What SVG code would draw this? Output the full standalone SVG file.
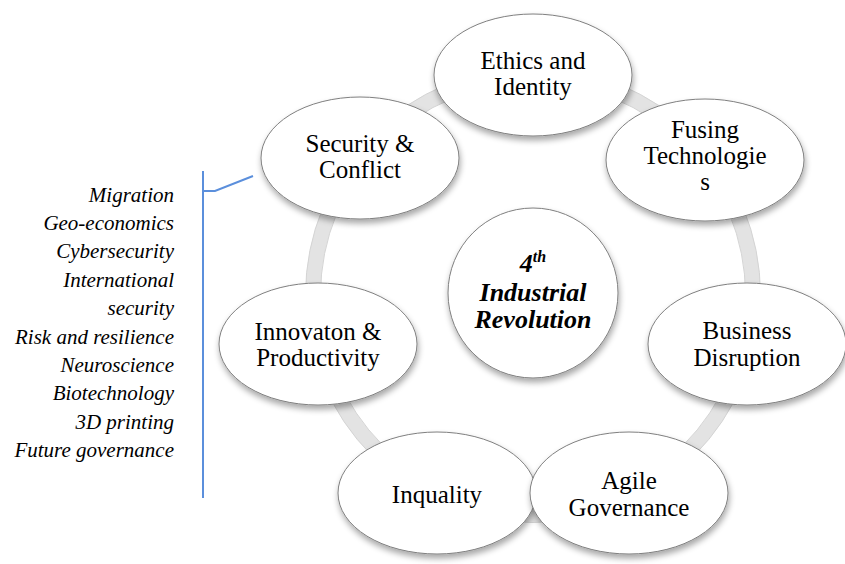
<svg xmlns="http://www.w3.org/2000/svg" width="845" height="564" viewBox="0 0 845 564">
  <defs>
    <filter id="shadow" x="-20%" y="-20%" width="140%" height="150%">
      <feGaussianBlur in="SourceAlpha" stdDeviation="3"/>
      <feOffset dx="1" dy="4" result="b"/>
      <feComponentTransfer><feFuncA type="linear" slope="0.35"/></feComponentTransfer>
      <feMerge><feMergeNode/><feMergeNode in="SourceGraphic"/></feMerge>
    </filter>
    <style>
      .node { fill: #ffffff; stroke: #7f7f7f; stroke-width: 1; filter: url(#shadow); }
      .lbl { font-family: 'Liberation Serif', 'Times New Roman', serif; font-size: 25px; text-anchor: middle; fill: #000; }
      .hub { font-family: 'Liberation Serif', 'Times New Roman', serif; font-size: 26px; font-weight: bold; font-style: italic; text-anchor: middle; fill: #000; }
      .side { font-family: 'Liberation Serif', 'Times New Roman', serif; font-size: 21px; font-style: italic; text-anchor: end; fill: #000; }
      .ring { fill: none; stroke: #e3e3e3; stroke-width: 15; }
      .ringEdge { fill: none; stroke: #d4d4d4; stroke-width: 1; }
      .bracket { fill: none; stroke: #5b8fdc; stroke-width: 2; }
    </style>
  </defs>

  <rect width="845" height="564" fill="#ffffff"/>

  <!-- connectors: cycle ring and callout bracket -->
  <g id="connectors">
    <circle class="ring" cx="533" cy="295" r="220"/>
    <circle class="ringEdge" cx="533" cy="295" r="227.5"/>
    <circle class="ringEdge" cx="533" cy="295" r="212.5"/>
    <polyline class="bracket" points="203,171 203,498"/>
    <polyline class="bracket" points="203,191 215,191 253,176"/>
  </g>

  <!-- hub -->
  <g id="hub">
    <circle class="node" cx="533" cy="293" r="85"/>
    <text class="hub" x="533" y="272">4<tspan font-size="16" dy="-10">th</tspan></text>
    <text class="hub" x="533" y="301">Industrial</text>
    <text class="hub" x="533" y="328">Revolution</text>
  </g>

  <g id="ethics">
    <ellipse class="node" cx="533" cy="75" rx="99" ry="61"/>
    <text class="lbl" x="533" y="69">Ethics and</text>
    <text class="lbl" x="533" y="95">Identity</text>
  </g>

  <g id="fusing">
    <ellipse class="node" cx="705" cy="160" rx="99" ry="61"/>
    <text class="lbl" x="705" y="138">Fusing</text>
    <text class="lbl" x="705" y="164">Technologie</text>
    <text class="lbl" x="705" y="190">s</text>
  </g>

  <g id="business">
    <ellipse class="node" cx="747" cy="344" rx="99" ry="61"/>
    <text class="lbl" x="747" y="339">Business</text>
    <text class="lbl" x="747" y="366">Disruption</text>
  </g>

  <g id="inequality">
    <ellipse class="node" cx="437" cy="493" rx="99" ry="61"/>
    <text class="lbl" x="437" y="503">Inquality</text>
  </g>

  <g id="agile">
    <ellipse class="node" cx="629" cy="493" rx="99" ry="61"/>
    <text class="lbl" x="629" y="489">Agile</text>
    <text class="lbl" x="629" y="516">Governance</text>
  </g>

  <g id="innovation">
    <ellipse class="node" cx="318" cy="344" rx="99" ry="61"/>
    <text class="lbl" x="318" y="340">Innovaton &amp;</text>
    <text class="lbl" x="318" y="366">Productivity</text>
  </g>

  <g id="security">
    <ellipse class="node" cx="360" cy="158" rx="99" ry="61"/>
    <text class="lbl" x="360" y="152">Security &amp;</text>
    <text class="lbl" x="360" y="178">Conflict</text>
  </g>

  <!-- topic list -->
  <g id="topics">
    <text class="side" x="174" y="201.5">Migration</text>
    <text class="side" x="174" y="229.9">Geo-economics</text>
    <text class="side" x="174" y="258.3">Cybersecurity</text>
    <text class="side" x="174" y="286.7">International</text>
    <text class="side" x="174" y="315.1">security</text>
    <text class="side" x="174" y="343.5">Risk and resilience</text>
    <text class="side" x="174" y="371.9">Neuroscience</text>
    <text class="side" x="174" y="400.3">Biotechnology</text>
    <text class="side" x="174" y="428.7">3D printing</text>
    <text class="side" x="174" y="457.1">Future governance</text>
  </g>
</svg>
